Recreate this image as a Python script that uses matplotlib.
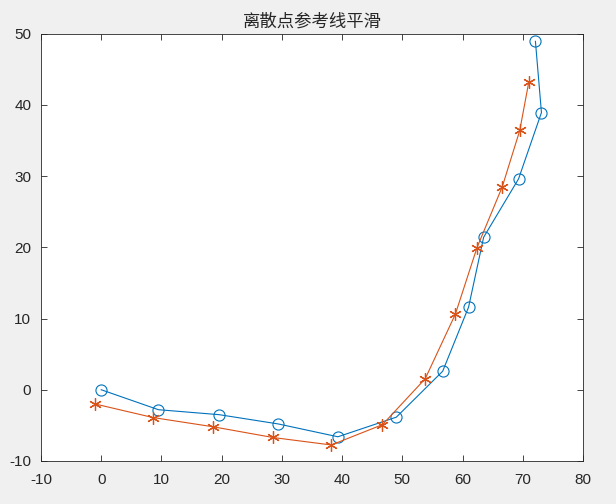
import matplotlib
matplotlib.use("Agg")
import matplotlib.pyplot as plt

blue_x = [0, 9.5, 19.6, 29.4, 39.3, 49.0, 56.7, 61.0, 63.5, 69.3, 73.1, 72.1]
blue_y = [0, -2.8, -3.5, -4.8, -6.6, -3.85, 2.6, 11.6, 21.4, 29.6, 38.9, 48.9]
orange_x = [-1.0, 8.6, 18.6, 28.5, 38.2, 46.7, 53.8, 58.8, 62.4, 66.6, 69.5, 71.0]
orange_y = [-2.0, -3.9, -5.2, -6.7, -7.75, -4.9, 1.55, 10.6, 19.95, 28.5, 36.4, 43.2]
xticks = [-10, 0, 10, 20, 30, 40, 50, 60, 70, 80]
yticks = [-10, 0, 10, 20, 30, 40, 50]
title = "离散点参考线平滑"

plt.rcParams['font.family'] = ['Liberation Sans', 'Noto Sans CJK SC', 'DejaVu Sans']
plt.rcParams['axes.unicode_minus'] = False

fig = plt.figure(figsize=(6.16, 5.04), dpi=100, facecolor='#f0f0f0')
ax = fig.add_axes([41/616, 1-461/504, (583-41)/616, (461-33.5)/504])
ax.set_facecolor('white')
ax.plot(blue_x, blue_y, '-o', color='#0072BD', lw=0.8, markersize=8,
        markerfacecolor='none', markeredgewidth=0.8)
ax.plot(orange_x, orange_y, '-', color='#D95319', lw=0.8, marker=(6, 2, 0),
        markersize=9, markeredgewidth=0.9)
ax.set_xlim(-10, 80)
ax.set_ylim(-10, 50)
ax.set_xticks(xticks)
ax.set_yticks(yticks)
ax.tick_params(direction='in', top=True, right=True, labelsize=11, length=4,
               width=0.6, color='#262626', labelcolor='#262626')
ax.tick_params(axis='x', pad=9)
ax.tick_params(axis='y', pad=7)
for s in ax.spines.values():
    s.set_linewidth(0.6)
    s.set_color('#262626')
ax.set_title(title, family=['Noto Sans CJK SC', 'DejaVu Sans'], fontsize=12.5,
             color='#262626', pad=5)
fig.savefig('out.png', dpi=100, facecolor=fig.get_facecolor())
